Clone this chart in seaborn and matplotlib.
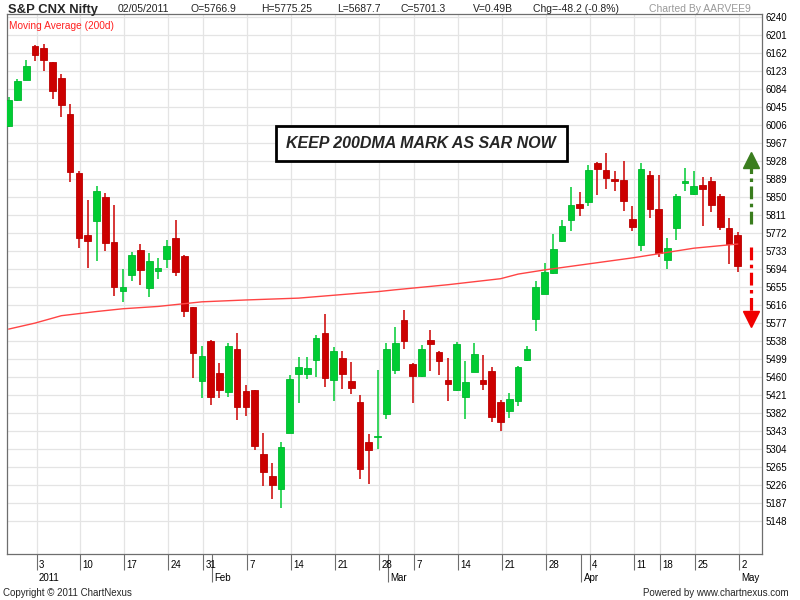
import numpy as np
import pandas as pd
import matplotlib
matplotlib.use("Agg")
import matplotlib.pyplot as plt
import matplotlib.transforms as mtransforms
from matplotlib.patches import Rectangle
import seaborn as sns

# ---------------------------------------------------------
# DATA  (S&P CNX Nifty daily)
# ---------------------------------------------------------
holidays = ["2011-01-26", "2011-03-02", "2011-04-12", "2011-04-14", "2011-04-22"]

opens = [6004, 6060, 6103, 6177, 6173, 6141, 6108, 6030, 5901, 5767,
         5797, 5849, 5752, 5647, 5680, 5736, 5652, 5689, 5715, 5762,
         5723, 5612, 5452, 5538, 5469, 5429, 5521, 5430, 5432, 5293,
         5246, 5218, 5340, 5466, 5466, 5498, 5556, 5453, 5502, 5452,
         5406, 5319, 5330, 5380, 5476, 5584, 5489, 5463, 5541, 5515,
         5454, 5433, 5418, 5472, 5454, 5473, 5406, 5387, 5409, 5498,
         5585, 5641, 5685, 5754, 5799, 5834, 5838, 5923, 5908, 5888,
         5886, 5803, 5746, 5897, 5823, 5713, 5782, 5880, 5856, 5875,
         5884, 5851, 5782, 5767]

highs = [6066, 6105, 6147, 6179, 6181, 6141, 6116, 6050, 5906, 5843,
         5874, 5858, 5832, 5695, 5730, 5747, 5728, 5717, 5756, 5801,
         5725, 5612, 5528, 5540, 5491, 5534, 5556, 5442, 5433, 5340,
         5274, 5319, 5465, 5504, 5504, 5552, 5597, 5526, 5517, 5493,
         5421, 5336, 5476, 5533, 5569, 5606, 5490, 5530, 5563, 5516,
         5502, 5537, 5495, 5534, 5508, 5482, 5411, 5426, 5484, 5528,
         5667, 5708, 5769, 5801, 5871, 5860, 5919, 5925, 5945, 5906,
         5927, 5830, 5923, 5906, 5897, 5762, 5856, 5912, 5906, 5893,
         5893, 5856, 5804, 5775]

lows = [6002, 6058, 6102, 6145, 6123, 6062, 6022, 5883, 5740, 5697,
        5711, 5734, 5636, 5623, 5667, 5659, 5633, 5673, 5696, 5678,
        5591, 5459, 5416, 5400, 5416, 5418, 5368, 5376, 5302, 5224,
        5197, 5178, 5339, 5405, 5457, 5461, 5439, 5408, 5434, 5424,
        5240, 5229, 5305, 5370, 5466, 5522, 5405, 5461, 5474, 5465,
        5408, 5430, 5370, 5471, 5432, 5364, 5343, 5372, 5398, 5494,
        5559, 5641, 5684, 5752, 5776, 5808, 5831, 5853, 5867, 5862,
        5819, 5776, 5733, 5804, 5720, 5693, 5757, 5863, 5855, 5788,
        5818, 5778, 5704, 5688]

closes = [6060, 6101, 6134, 6157, 6146, 6079, 6048, 5904, 5762, 5754,
          5863, 5751, 5654, 5654, 5724, 5691, 5711, 5696, 5743, 5687,
          5604, 5512, 5506, 5417, 5432, 5527, 5396, 5396, 5312, 5254,
          5226, 5310, 5456, 5481, 5479, 5545, 5458, 5517, 5467, 5437,
          5262, 5303, 5333, 5522, 5535, 5538, 5463, 5520, 5531, 5494,
          5446, 5531, 5449, 5511, 5446, 5373, 5364, 5413, 5481, 5521,
          5654, 5687, 5737, 5787, 5833, 5826, 5908, 5910, 5891, 5885,
          5842, 5785, 5911, 5824, 5729, 5740, 5851, 5884, 5874, 5868,
          5833, 5785, 5749, 5701]

# 200 day moving average, read at some of the trading days (index into the bars)
ma_idx = [0, 3, 6, 10, 13, 17, 22, 27, 33, 42, 44, 50, 56, 58, 61, 66, 71, 74, 78, 83]
ma_val = [5564, 5577, 5593, 5602, 5608, 5613, 5623, 5627, 5631, 5645,
          5649, 5660, 5673, 5683, 5692, 5705, 5718, 5727, 5739, 5748]

y_ticks = list(range(5148, 6241, 39))

# annotation arrows (price levels: tail, tip)
arrow_up = [5792, 5946]
arrow_down = [5742, 5570]

header = ["02/05/2011", "O=5766.9", "H=5775.25", "L=5687.7",
          "C=5701.3", "V=0.49B", "Chg=-48.2 (-0.8%)"]

# ---------------------------------------------------------
# FRAME
# ---------------------------------------------------------
dates = pd.bdate_range("2010-12-29", "2011-05-02").drop(pd.to_datetime(holidays))
df = pd.DataFrame({"date": dates, "open": opens, "high": highs,
                   "low": lows, "close": closes})
df["i"] = np.arange(len(df))
df["up"] = df["close"] >= df["open"]

GREEN = "#00cc33"
RED = "#cc0000"
FRAME = "#6e6e6e"

sns.set_theme(style="white")
plt.rcParams["font.family"] = ["Liberation Sans", "DejaVu Sans"]

fig = plt.figure(figsize=(8, 6), dpi=100)
fig.patch.set_facecolor("white")
ax = fig.add_axes([7 / 800, 1 - 554 / 600, 755 / 800, 540 / 600])

# ---------------------------------------------------------
# CANDLES + MA
# ---------------------------------------------------------
colors = np.where(df["up"], GREEN, RED)
edges = np.where(df["up"], "#00b82e", "#bb0000")
ax.vlines(df["i"], df["low"], df["high"], colors=colors, lw=1.1, zorder=2.5)
body = (df["close"] - df["open"]).abs().clip(lower=2.5)
ax.bar(df["i"], body, bottom=df[["open", "close"]].min(axis=1), width=0.76,
       color=colors, edgecolor=edges, linewidth=0.6, zorder=3)

sns.lineplot(x=ma_idx, y=ma_val, color="#ff4444", lw=1.0, ax=ax, zorder=4,
             legend=False)

# ---------------------------------------------------------
# AXES
# ---------------------------------------------------------
ax.set_xlim(-0.19, 85.76)
ax.set_ylim(5077.5, 6245.6)
ax.set_xlabel("")
ax.set_ylabel("")

off = 0.17
mondays = df[df["date"].dt.weekday == 0]
month_first = df[df["date"].dt.year == 2011].groupby(df["date"].dt.month).head(1)

ax.set_xticks(mondays["i"] + off)
ax.set_xticks(month_first["i"] + off, minor=True)
ax.tick_params(axis="x", which="major", length=11.5, width=0.8, color=FRAME,
               direction="out", labelbottom=False, bottom=True)
ax.tick_params(axis="x", which="minor", length=20, width=0.8, color=FRAME,
               direction="out", labelbottom=False, bottom=True)

ax.set_yticks(y_ticks)
ax.yaxis.tick_right()
ax.tick_params(axis="y", length=0, pad=2.5, labelsize=7, labelcolor="black")

ax.grid(True, which="major", color="#e4e4e4", lw=0.9, zorder=0)
ax.set_axisbelow(True)
for s in ax.spines.values():
    s.set_visible(True)
    s.set_color(FRAME)
    s.set_linewidth(0.9)

trans = mtransforms.blended_transform_factory(ax.transData, ax.transAxes)
for _, r in mondays.iterrows():
    ax.text(r["i"] + off + 0.27, -0.0204, str(r["date"].day), transform=trans,
            ha="left", va="center", fontsize=7, color="black")
for _, r in month_first.iterrows():
    lab = "2011" if r["date"].month == 1 else r["date"].strftime("%b")
    ax.text(r["i"] + off + 0.27, -0.0439, lab, transform=trans,
            ha="left", va="center", fontsize=7, color="black")

# ---------------------------------------------------------
# ARROWS (just right of the last bar)
# ---------------------------------------------------------
xa = len(df) + 0.5
ax.plot([xa, xa], [arrow_up[0], arrow_up[1] - 30], color="#3a7d1e", lw=2.3,
        dashes=(4, 1.4, 1.1, 1.4), solid_capstyle="butt", zorder=5)
ax.plot([xa], [arrow_up[1] - 15.5], marker="^", markersize=11, color="#3a7d1e",
        zorder=5)
ax.plot([xa, xa], [arrow_down[0], arrow_down[1] + 31], color="#f00000", lw=2.3,
        dashes=(4, 1.4, 1.1, 1.4), solid_capstyle="butt", zorder=5)
ax.plot([xa], [arrow_down[1] + 16], marker="v", markersize=11, color="#f00000",
        zorder=5)

# ---------------------------------------------------------
# TEXTS
# ---------------------------------------------------------
fig.text(8 / 800, 1 - 9.5 / 600, "S&P CNX Nifty", fontsize=9.4, fontweight="bold",
         ha="left", va="center")
head_x = [118, 190.7, 260.7, 337.3, 400.7, 472.7, 532.7]
for hx, t in zip(head_x, header):
    fig.text(hx / 800, 1 - 9.5 / 600, t, fontsize=7.5, ha="left", va="center",
             color="#222222")
fig.text(648.7 / 800, 1 - 9.5 / 600, "Charted By AARVEE9", fontsize=7.5,
         ha="left", va="center", color="#999999")
fig.text(9.3 / 800, 1 - 25.7 / 600, "Moving Average (200d)", fontsize=7.3,
         ha="left", va="center", color="#ff2020")

fig.patches.append(Rectangle((275.7 / 800, 1 - 160.7 / 600), 291 / 800, 34.7 / 600,
                             transform=fig.transFigure, facecolor="white",
                             edgecolor="black", linewidth=2.0, zorder=10))
fig.text(421.2 / 800, 1 - 143.4 / 600, "KEEP 200DMA MARK AS SAR NOW", fontsize=11.5,
         fontweight="bold", fontstyle="italic", ha="center", va="center",
         zorder=11)

fig.text(3 / 800, 1 - 593 / 600, "Copyright \u00a9 2011 ChartNexus", fontsize=7,
         ha="left", va="center")
fig.text(789 / 800, 1 - 593 / 600, "Powered by www.chartnexus.com", fontsize=7,
         ha="right", va="center")

fig.savefig("out.png", dpi=100, facecolor="white")
